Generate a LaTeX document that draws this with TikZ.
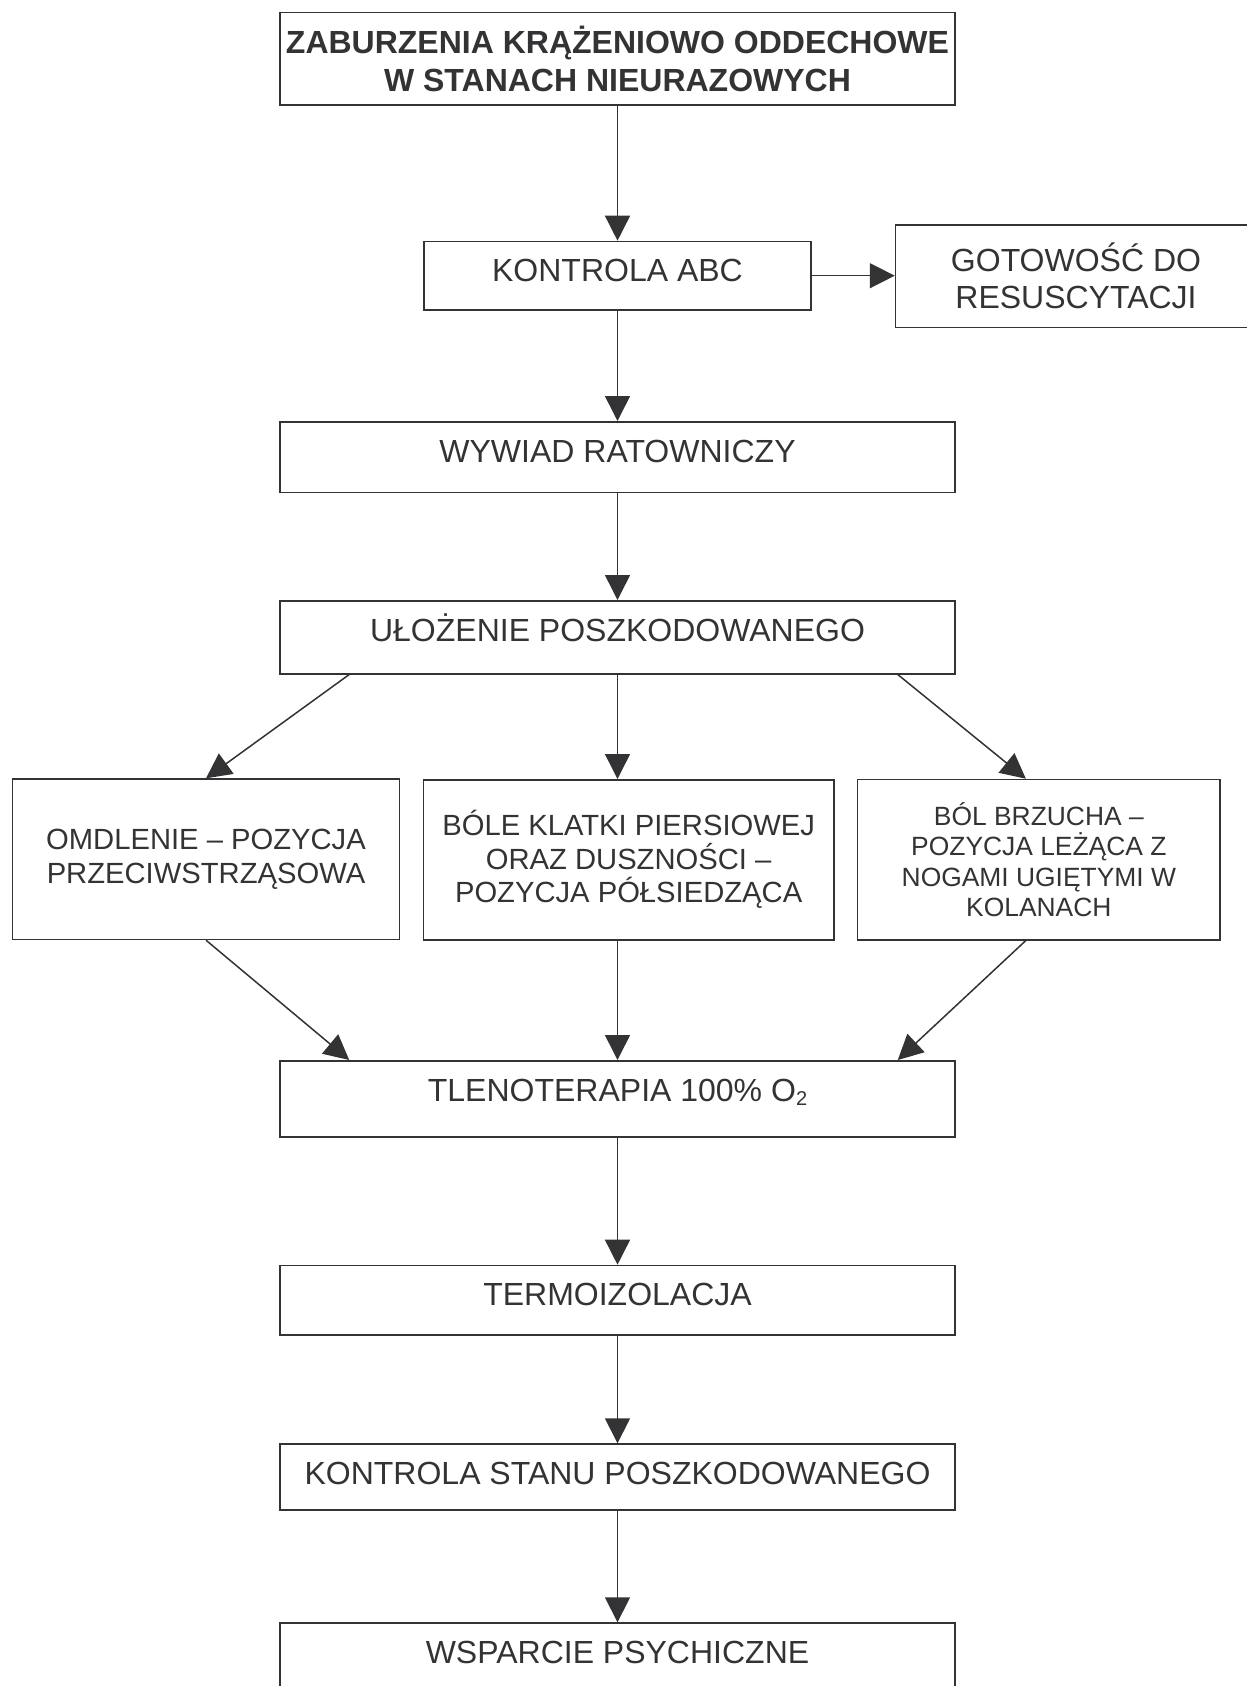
\documentclass[tikz,border=0pt]{standalone}
\usepackage{fontspec}
\setmainfont{Liberation Sans}
\usetikzlibrary{arrows.meta,calc}
\definecolor{ink}{HTML}{333335}

\tikzset{
  box/.style={draw=ink, line width=0.75pt, text=ink, inner xsep=0pt, inner ysep=0pt,
    anchor=north, font=\fontsize{16}{18}\selectfont},
  single/.style={box, minimum width=337.5pt, text height=20.25pt, text depth=14.75pt},
  arr/.style={draw=ink, line width=0.75pt, -{Triangle[length=12.5pt,width=12.5pt]}},
}

\begin{document}
\begin{tikzpicture}[x=0.5pt,y=-0.5pt]
  \clip (0,0) rectangle (1247,1686);

  \node[box, minimum width=337.5pt, minimum height=46.3pt, align=center,
    font=\bfseries\fontsize{16}{18.8}\selectfont] (title) at (617.5,11.7)
    {ZABURZENIA KRĄŻENIOWO ODDECHOWE\\W STANACH NIEURAZOWYCH};
  \node[single, minimum width=193.5pt, text depth=14pt] (abc) at (617.5,240.7) {KONTROLA ABC};
  \node[box, minimum width=180.5pt, minimum height=51.35pt, align=center,
    font=\fontsize{16}{18.35}\selectfont] (goto) at (1076,224) {GOTOWOŚĆ DO\\RESUSCYTACJI};
  \node[single, text depth=15pt] (wywiad) at (617.5,421) {WYWIAD RATOWNICZY};
  \node[single, text depth=16.25pt] (uloz) at (617.5,600) {UŁOŻENIE POSZKODOWANEGO};

  % trzy pozycje
  \node[box, minimum width=193.3pt, minimum height=80.2pt, align=center,
    font=\fontsize{14.6}{17}\selectfont] (omdl) at (206,778.3)
    {OMDLENIE – POZYCJA\\PRZECIWSTRZĄSOWA};
  \node[box, minimum width=205.35pt, minimum height=80pt, align=center,
    font=\fontsize{14.6}{16.75}\selectfont] (bole) at (628.65,779)
    {BÓLE KLATKI PIERSIOWEJ\\ORAZ DUSZNOŚCI –\\POZYCJA PÓŁSIEDZĄCA};
  \node[box, minimum width=181.15pt, minimum height=80.15pt, align=center,
    font=\fontsize{13.2}{15.25}\selectfont] (brzuch) at (1038.85,778.7)
    {BÓL BRZUCHA –\\POZYCJA LEŻĄCA Z\\NOGAMI UGIĘTYMI W\\KOLANACH};

  \node[single, text depth=17.85pt] (tlen) at (617.5,1060)
    {TLENOTERAPIA 100\% O\raisebox{-0.25ex}{\fontsize{10}{10}\selectfont 2}};
  \node[single, text depth=14.5pt] (termo) at (617.5,1264.7) {TERMOIZOLACJA};
  \node[single, text depth=12.65pt] (stan) at (617.5,1443.3) {KONTROLA STANU POSZKODOWANEGO};
  \node[single, text depth=15pt] (wsparcie) at (617.5,1622.3) {WSPARCIE PSYCHICZNE};

  \draw[arr] (title) -- (abc);
  \draw[arr] (abc.east) -- (abc.east -| goto.west);
  \draw[arr] (abc) -- (wywiad);
  \draw[arr] (wywiad) -- (uloz);
  \draw[arr] ($(uloz.south west)+(70,0)$) -- (omdl.north);
  \draw[arr] (uloz.south) -- (uloz.south |- bole.north);
  \draw[arr] ($(uloz.south east)+(-58,0)$) -- ($(brzuch.north)+(-13,0)$);
  \draw[arr] (omdl.south) -- ($(tlen.north west)+(70,0)$);
  \draw[arr] (bole.south -| tlen.north) -- (tlen.north);
  \draw[arr] ($(brzuch.south)+(-13,0)$) -- ($(tlen.north east)+(-58,0)$);
  \draw[arr] (tlen) -- (termo);
  \draw[arr] (termo) -- (stan);
  \draw[arr] (stan) -- (wsparcie);
\end{tikzpicture}
\end{document}
